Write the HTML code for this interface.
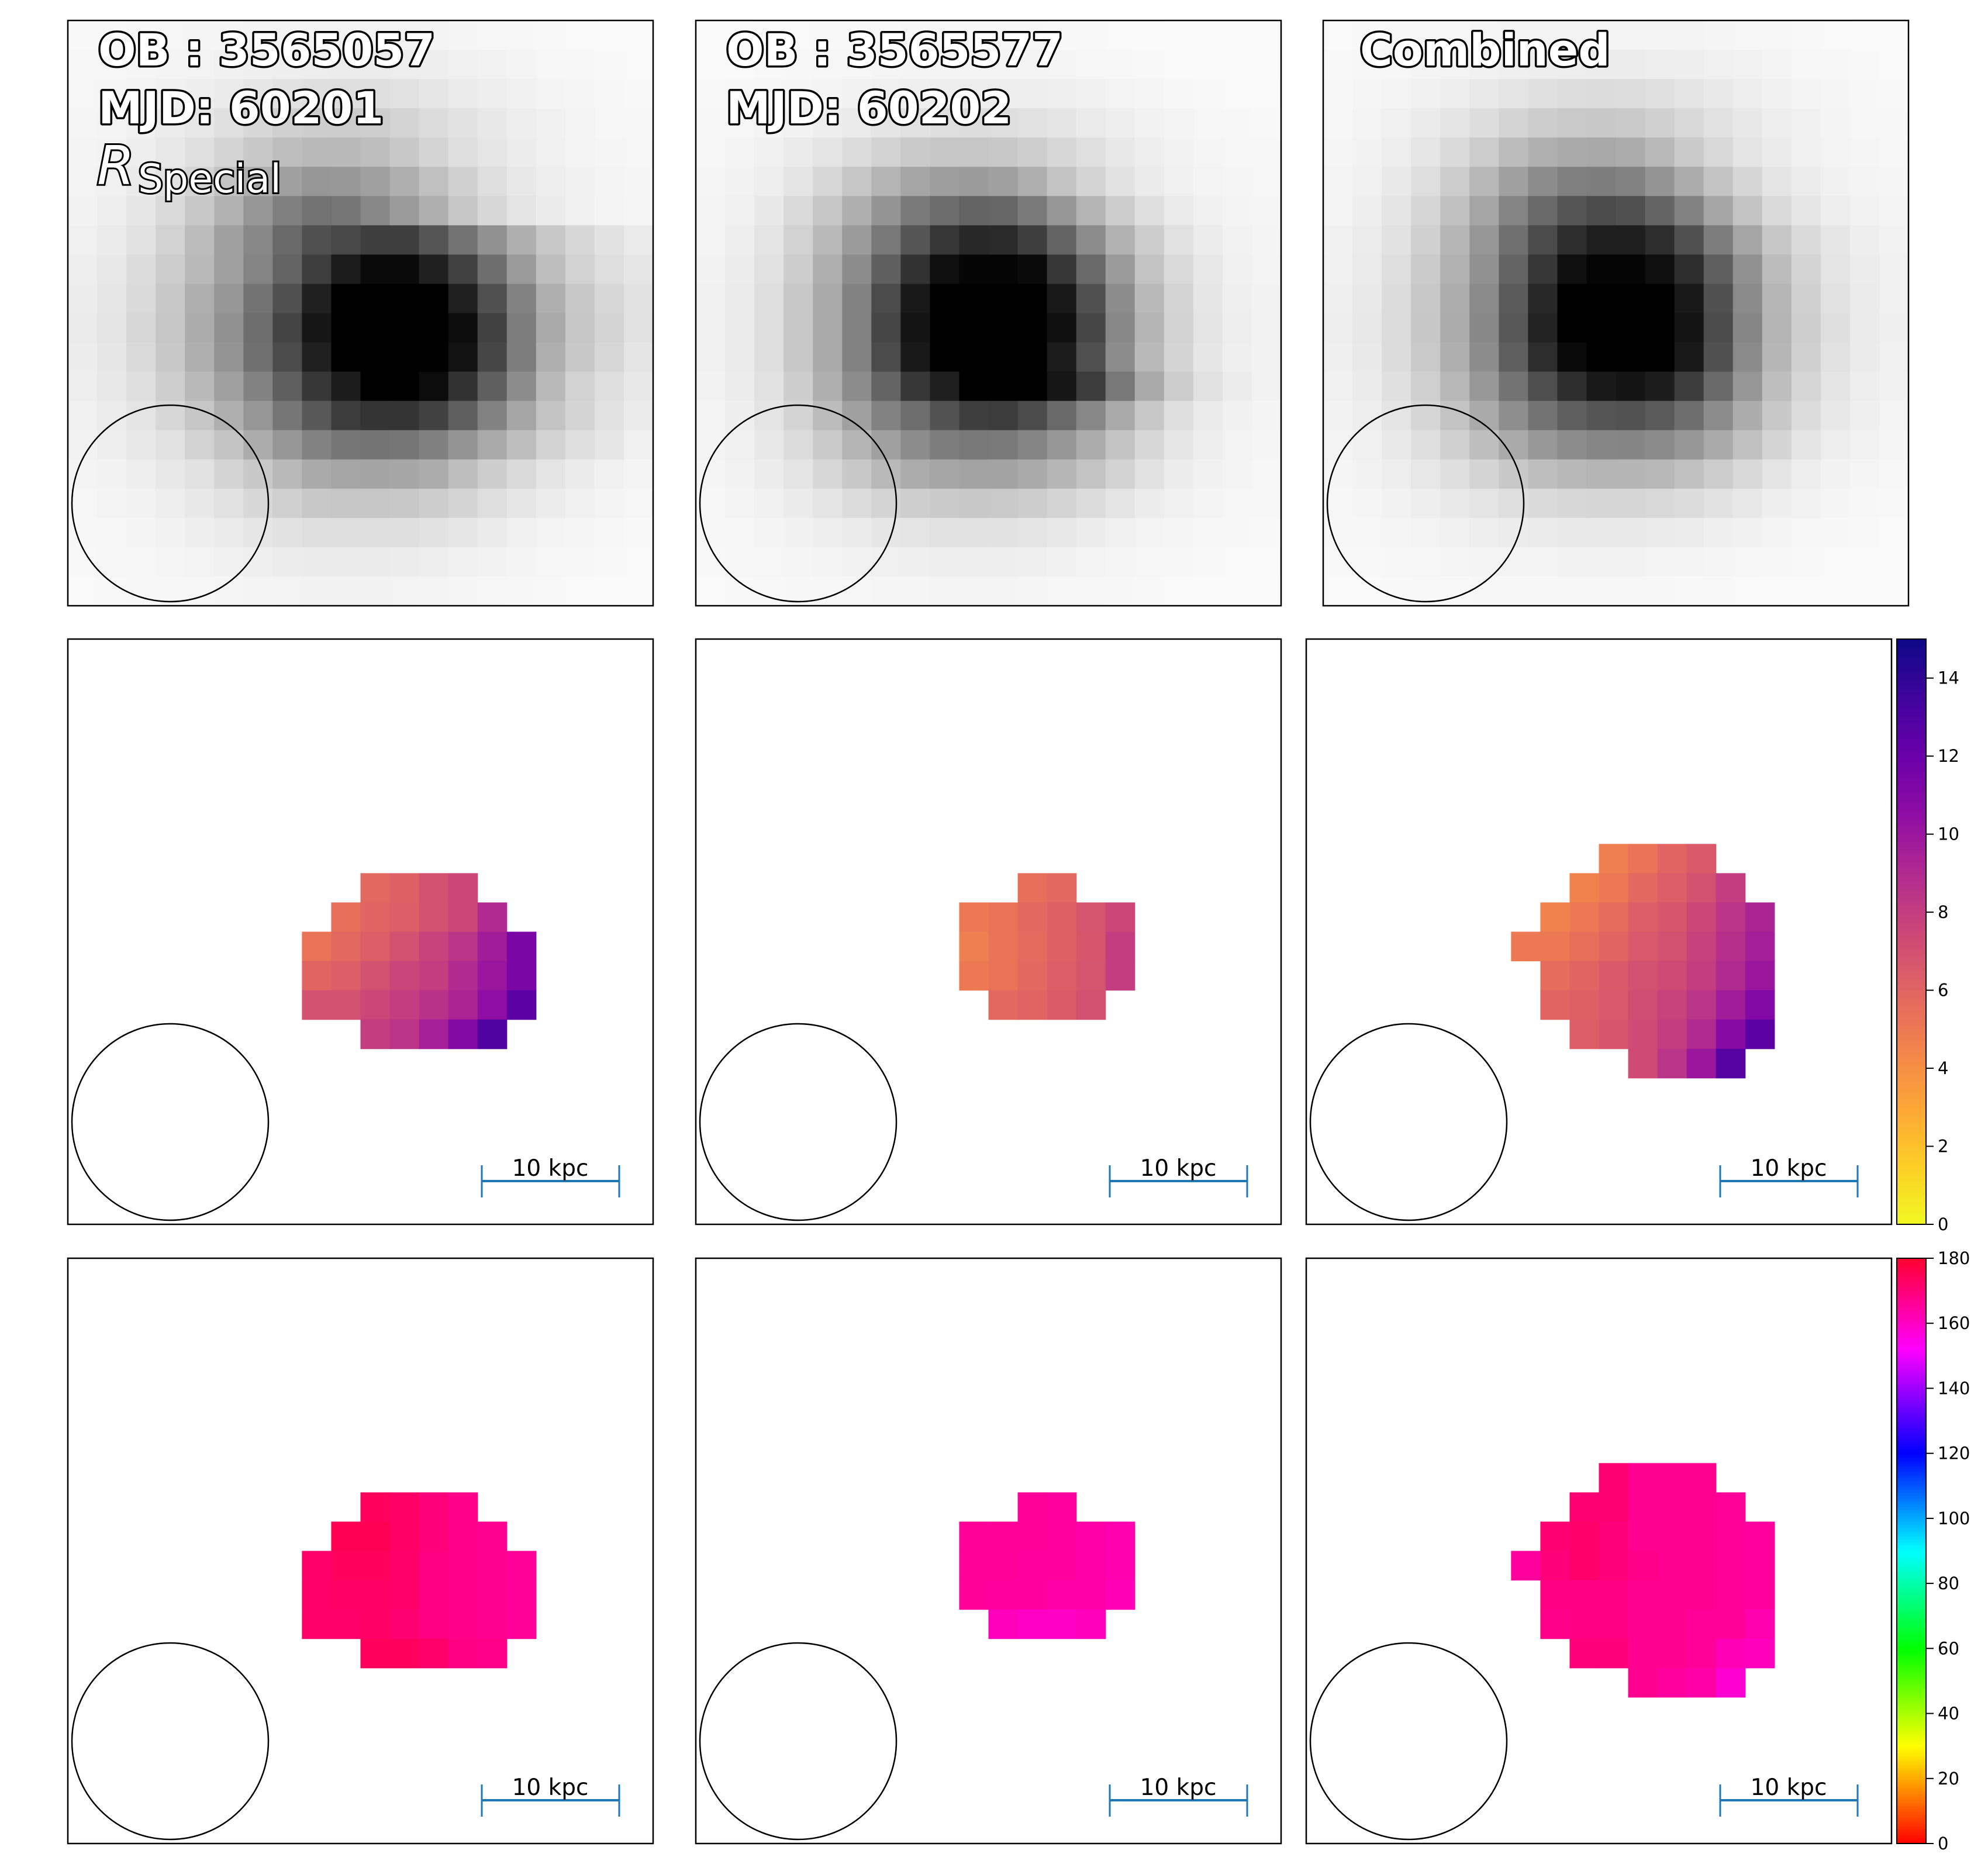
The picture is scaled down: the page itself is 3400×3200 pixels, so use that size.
<!DOCTYPE html>
<html><head><meta charset="utf-8"><style>
html,body{margin:0;padding:0;background:#fff;}
svg{display:block;}
text{font-family:"DejaVu Sans","Liberation Sans",sans-serif;}
</style></head>
<body>
<svg id="fig" width="3400" height="3200" viewBox="0 0 3400 3200" xmlns="http://www.w3.org/2000/svg"></svg>
<script>
// ---------- data ----------
const grey1 = [
[248,248,247,246,245,245,244,243,243,243,243,243,244,245,246,247,248,249,250,250],
[247,246,245,244,243,241,239,238,237,236,236,237,238,240,242,244,246,247,248,249],
[246,245,243,241,238,234,230,226,223,222,223,226,230,234,238,241,243,245,247,248],
[245,243,240,236,231,224,215,208,205,204,206,212,220,226,232,238,241,244,246,247],
[244,242,238,232,224,212,200,190,185,185,190,200,212,222,230,236,240,243,245,246],
[243,240,235,226,212,195,175,160,150,152,160,175,192,208,222,232,238,241,244,245],
[242,238,230,218,200,178,150,128,115,118,135,155,175,198,215,228,235,240,243,245],
[240,235,226,210,188,160,135,105,80,72,62,62,85,115,145,175,200,215,226,234],
[238,232,220,205,185,160,132,100,62,28,10,10,32,65,110,155,190,210,222,230],
[236,230,218,200,175,150,115,80,32,0,0,0,0,32,80,130,175,200,215,226],
[235,228,215,198,172,145,110,68,22,0,0,0,0,12,65,125,170,198,212,225],
[236,230,218,200,175,148,112,75,32,0,0,0,0,18,70,125,175,200,215,228],
[238,232,222,206,185,160,130,95,55,28,0,0,12,50,95,140,185,210,222,232],
[240,236,228,215,198,175,150,118,88,60,52,52,65,95,130,165,195,212,225,235],
[242,238,232,225,210,195,172,150,130,118,116,118,128,148,170,190,210,222,230,240],
[244,242,238,232,225,212,200,185,170,165,164,166,172,190,205,218,228,235,240,244],
[246,244,242,238,232,225,215,208,200,198,198,200,205,212,222,230,236,240,244,246],
[247,246,244,242,238,234,230,226,222,222,222,223,226,230,235,240,243,245,246,248],
[248,247,246,245,243,241,239,236,235,235,235,236,238,240,242,244,246,247,248,249],
[249,248,247,247,246,245,244,243,242,242,242,243,244,245,246,247,248,249,249,250]];
const grey2 = [
[250,250,249,249,248,248,248,247,247,247,247,247,248,248,249,249,250,250,250,250],
[250,249,248,247,246,246,245,244,244,244,244,244,245,246,247,248,249,250,250,250],
[248,247,246,245,244,242,240,239,238,237,237,238,239,241,243,245,247,248,249,249],
[247,246,244,242,238,234,229,225,222,221,222,225,229,234,238,242,244,246,247,248],
[246,244,240,235,228,220,210,202,198,198,200,206,215,224,232,238,242,245,246,247],
[245,242,237,228,215,198,180,165,158,155,160,175,195,212,226,235,240,243,245,246],
[244,240,232,218,198,175,148,122,108,100,102,122,150,180,205,222,234,240,244,245],
[243,238,228,210,185,155,120,85,55,40,42,62,100,140,178,205,225,236,242,244],
[242,236,225,205,175,140,95,50,15,5,5,10,55,105,155,195,218,232,240,243],
[241,235,222,200,170,130,75,25,0,0,0,0,25,80,140,185,212,230,239,242],
[241,235,222,200,170,130,70,20,0,0,0,0,15,70,135,180,210,228,238,242],
[241,235,222,200,170,130,75,25,0,0,0,0,28,80,140,185,212,230,239,242],
[242,236,225,205,175,140,100,55,30,0,0,0,22,60,120,170,205,225,236,242],
[243,238,228,212,188,160,130,110,82,62,60,75,105,135,170,200,222,235,241,244],
[244,240,232,220,202,180,160,140,125,120,122,132,150,172,195,215,230,238,243,245],
[245,242,236,228,215,200,185,172,165,162,163,170,182,195,210,225,236,241,244,246],
[246,244,240,235,228,220,212,206,202,200,201,205,212,220,228,236,240,244,246,247],
[247,246,244,241,238,234,230,228,226,225,226,228,232,236,240,243,245,246,247,248],
[248,247,246,245,244,242,240,239,238,238,238,239,241,243,245,246,247,248,249,249],
[249,248,248,247,246,246,245,245,244,244,244,245,246,246,247,248,249,249,250,250]];
const grey3 = [
[249,248,247,246,246,245,244,244,243,243,243,244,244,245,246,247,248,249,250,250],
[248,247,246,244,243,241,239,238,237,236,236,237,238,240,242,244,246,247,248,249],
[247,245,243,241,237,233,228,224,221,220,221,224,228,233,237,241,243,245,247,248],
[246,243,240,235,229,221,212,205,201,200,202,208,217,225,232,238,241,244,246,247],
[245,242,237,230,218,204,188,176,170,168,172,185,202,216,228,235,240,243,245,246],
[244,240,233,222,204,184,160,140,128,125,130,148,172,195,214,228,236,241,244,245],
[243,238,229,214,192,165,132,105,85,75,80,100,130,165,195,218,230,238,242,244],
[241,236,226,208,182,150,112,75,45,30,30,45,80,125,165,198,218,230,238,242],
[240,234,222,203,178,145,100,55,15,5,5,15,45,95,145,188,212,228,236,240],
[239,233,220,200,173,138,90,40,0,0,0,0,25,80,138,182,208,225,235,240],
[238,232,219,199,171,136,88,35,0,0,0,0,20,75,134,180,206,223,234,239],
[239,233,220,201,174,140,95,45,10,0,0,0,25,80,138,182,208,225,235,240],
[240,235,224,207,183,152,115,78,45,25,20,28,60,105,150,190,213,228,237,241],
[242,237,228,214,195,170,142,115,95,85,82,90,110,140,172,200,220,232,239,243],
[243,240,233,222,207,190,170,152,140,134,133,138,150,170,192,212,228,237,242,245],
[245,242,238,231,222,212,200,190,184,181,181,184,192,204,216,228,237,242,245,247],
[246,245,242,238,233,228,222,218,215,214,214,216,220,226,232,238,242,245,247,248],
[247,246,245,243,241,238,236,234,233,233,233,234,236,239,241,244,246,247,248,249],
[248,248,247,246,245,244,243,243,242,242,242,243,244,245,246,247,248,249,249,250],
[249,249,248,248,248,247,247,247,247,247,247,247,248,248,249,249,250,250,250,250]];

// maps: each row = [row index, start col, values...]
const mid1 = [
[8,10,5.8,6.2,7,7.5],
[9,9,5.5,6,6.3,7,7.5,9],
[10,8,5.3,5.8,6.3,7,7.7,8.5,9.7,11.3],
[11,8,6,6.3,7,7.6,8,9,10,11.3],
[12,8,7,7,7.5,8,8.6,9.3,10.5,12.5],
[13,10,8,8.5,9.5,11,13]];
const mid2 = [
[8,11,5.5,5.8],
[9,9,5,5.3,5.8,6.2,6.8,7.5],
[10,9,4.8,5.3,5.7,6.2,6.7,8],
[11,9,5,5.3,5.8,6.3,6.8,8],
[12,10,5.8,6,6.4,7]];
const mid3 = [
[7,10,4.8,5.2,6,6.5],
[8,9,4.6,5,5.8,6.3,7,8],
[9,8,4.6,5,5.6,6.3,6.7,7.5,8.5,9.3],
[10,7,5,5,5.5,6,6.6,7,7.8,8.7,9.6],
[11,8,5.6,6,6.5,7,7.3,8,9,10],
[12,8,6,6.2,6.6,7.2,7.7,8.5,9.7,11],
[13,9,6.3,6.7,7.3,8,9,10.8,12.5],
[14,11,7.3,8.5,10,12.8]];
const bot1 = [
[8,10,174,173,170,168],
[9,9,175,175,173,170,168,167],
[10,8,172,174,174,172,169,168,167,166],
[11,8,172,173,173,172,169,168,167,166],
[12,8,172,172,173,171,169,168,167,166],
[13,10,174,174,172,169,168]];
const bot2 = [
[8,11,166,165],
[9,9,166,166,166,165,164,163],
[10,9,166,166,165,165,164,163],
[11,9,166,165,165,164,164,162],
[12,10,161,160,160,161]];
const bot3 = [
[7,10,171,167,167,167],
[8,9,171,171,167,167,167,166],
[9,8,171,172,170,167,167,167,166,165],
[10,7,165,170,172,170,168,167,167,166,165],
[11,8,169,169,169,167,167,167,166,165],
[12,8,168,169,169,167,167,166,166,163],
[13,9,170,170,167,167,166,162,161],
[14,11,167,165,164,158]];

const cb1Ticks = [0,2,4,6,8,10,12,14];
const cb1Range = [0,15];
const cb2Ticks = [0,20,40,60,80,100,120,140,160,180];
const cb2Range = [0,180];
const titles1 = ["OB : 3565057","MJD: 60201"];
const titles2 = ["OB : 3565577","MJD: 60202"];
const titles3 = ["Combined"];

// ---------- helpers ----------
const NS = "http://www.w3.org/2000/svg";
const svg = document.getElementById('fig');
function mk(tag, attrs, parent){
  const e = document.createElementNS(NS, tag);
  for (const k in attrs) e.setAttribute(k, attrs[k]);
  (parent||svg).appendChild(e);
  return e;
}
function lerp(a,b,t){return a+(b-a)*t;}
function cmapStops(stops, t){
  t = Math.max(0, Math.min(1, t));
  for (let i=1;i<stops.length;i++){
    if (t <= stops[i][0]){
      const a=stops[i-1], b=stops[i];
      const u=(t-a[0])/(b[0]-a[0]);
      return `rgb(${Math.round(lerp(a[1],b[1],u))},${Math.round(lerp(a[2],b[2],u))},${Math.round(lerp(a[3],b[3],u))})`;
    }
  }
  const l=stops[stops.length-1]; return `rgb(${l[1]},${l[2]},${l[3]})`;
}
const plasmaR = [[0,240,249,33],[0.1,252,206,37],[0.2,252,166,54],[0.3,242,132,75],[0.4,225,100,98],[0.5,204,71,120],[0.6,177,42,144],[0.7,143,13,164],[0.8,106,0,168],[0.9,65,4,157],[1,13,8,135]];
const hueMap = [[0,255,0,0],[0.167,255,255,0],[0.333,0,255,0],[0.5,0,255,255],[0.667,0,0,255],[0.845,255,0,255],[1,255,0,48]];

const colX = [116,1190,2263];
const colX3b = 2234;
const rowY = [35,1093,2152];
const P = 1001, N = 20, C = P/N;

function axesFrame(g,x,y,name){
  const r = mk('rect',{x:x,y:y,width:P,height:P,fill:'none',stroke:'#000','stroke-width':2.5},g);
  
  
}
function beam(g,x,y){
  const c = mk('circle',{cx:x+175,cy:y+826,r:168,fill:'none',stroke:'#000','stroke-width':2.5},g);
  
  
}
function scaleBar(g,x,y){
  const sg = mk('g',{},g);
  
  
  mk('line',{x1:x+708,y1:y+927,x2:x+943,y2:y+927,stroke:'#1f77b4','stroke-width':4},sg);
  mk('line',{x1:x+708,y1:y+900,x2:x+708,y2:y+955,stroke:'#1f77b4','stroke-width':3},sg);
  mk('line',{x1:x+943,y1:y+900,x2:x+943,y2:y+955,stroke:'#1f77b4','stroke-width':3},sg);
  const t = mk('text',{x:x+825,y:y+918,'text-anchor':'middle','font-size':39,fill:'#000'},sg);
  t.textContent = '10 kpc';
  
  
}
function greyPanel(x,y,data,titles,name,sub){
  const g = mk('g',{});
  
  
  data.forEach((row,i)=>row.forEach((v,j)=>{
    const r = mk('rect',{x:x+j*C,y:y+i*C,width:C+0.6,height:C+0.6,fill:`rgb(${v},${v},${v})`},g);
    
    
  }));
  beam(g,x,y);
  titles.forEach((s,k)=>{
    const t = mk('text',{x:x+(titles.length===1?63:52),y:y+77+k*99,'font-size':76,'font-weight':'bold',fill:'#fff',stroke:'#000','stroke-width':7,'paint-order':'stroke','stroke-linejoin':'round'},g);
    t.textContent = s;
    
    
  });
  if (sub){
    const t = mk('text',{x:x+50,y:y+280,'font-size':92,'font-style':'italic',fill:'#fff',stroke:'#000','stroke-width':6,'paint-order':'stroke'},g);
    t.textContent = 'R';
    
    
    const t2 = mk('text',{x:x+120,y:y+294,'font-size':68,fill:'#fff',stroke:'#000','stroke-width':6,'paint-order':'stroke'},g);
    t2.textContent = 'Special';
    
    
  }
  axesFrame(g,x,y,name);
}
function mapPanel(x,y,rows,stops,range,name){
  const g = mk('g',{});
  
  
  mk('rect',{x:x,y:y,width:P,height:P,fill:'#fff'},g);
  rows.forEach(r=>{
    const ri=r[0], c0=r[1];
    for (let k=2;k<r.length;k++){
      const t=(r[k]-range[0])/(range[1]-range[0]);
      const e = mk('rect',{x:x+(c0+k-2)*C,y:y+ri*C,width:C+0.6,height:C+0.6,fill:cmapStops(stops,t)},g);
      
      
    }
  });
  beam(g,x,y);
  scaleBar(g,x,y);
  axesFrame(g,x,y,name);
}
function colorbar(x,y,w,h,stops,range,ticks,name){
  const g = mk('g',{});
  
  
  const steps=200;
  for (let i=0;i<steps;i++){
    const t=(i+0.5)/steps;
    mk('rect',{x:x,y:y+h-(i+1)*h/steps,width:w,height:h/steps+0.8,fill:cmapStops(stops,t)},g);
  }
  mk('rect',{x:x,y:y,width:w,height:h,fill:'none',stroke:'#000','stroke-width':2},g);
  ticks.forEach(v=>{
    const ty = y+h-(v-range[0])/(range[1]-range[0])*h;
    mk('line',{x1:x+w,y1:ty,x2:x+w+13,y2:ty,stroke:'#000','stroke-width':2},g);
    const t = mk('text',{x:x+w+20,y:ty+10,'font-size':29,fill:'#000'},g);
    t.textContent = String(v);
    
    
  });
}

// ---------- draw ----------
greyPanel(colX[0],rowY[0],grey1,titles1,'image-ob-3565057',true);
greyPanel(colX[1],rowY[0],grey2,titles2,'image-ob-3565577',false);
greyPanel(colX[2],rowY[0],grey3,titles3,'image-combined',false);
mapPanel(colX[0],rowY[1],mid1,plasmaR,cb1Range,'dispersion-map-ob-3565057');
mapPanel(colX[1],rowY[1],mid2,plasmaR,cb1Range,'dispersion-map-ob-3565577');
mapPanel(colX3b,rowY[1],mid3,plasmaR,cb1Range,'dispersion-map-combined');
colorbar(3244,rowY[1],50,P,plasmaR,cb1Range,cb1Ticks,'colorbar-dispersion');
mapPanel(colX[0],rowY[2],bot1,hueMap,cb2Range,'angle-map-ob-3565057');
mapPanel(colX[1],rowY[2],bot2,hueMap,cb2Range,'angle-map-ob-3565577');
mapPanel(colX3b,rowY[2],bot3,hueMap,cb2Range,'angle-map-combined');
colorbar(3244,rowY[2],50,P,hueMap,cb2Range,cb2Ticks,'colorbar-angle');
</script>
</body></html>
